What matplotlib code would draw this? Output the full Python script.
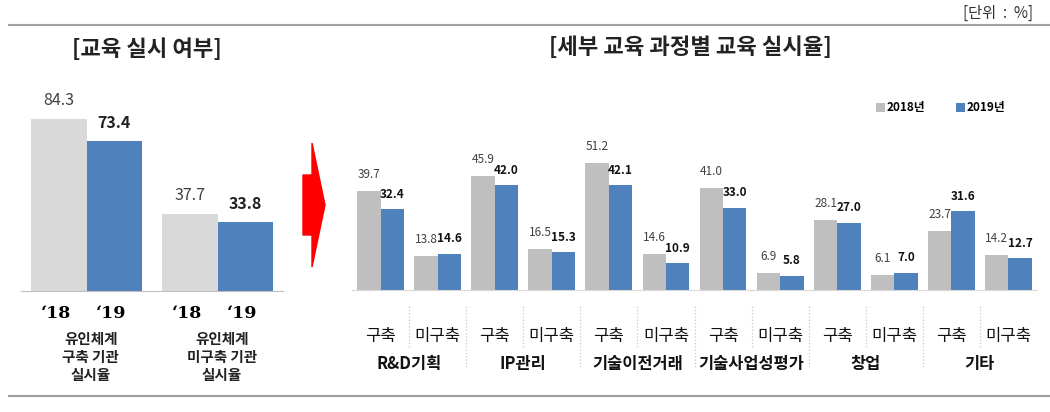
import numpy as np
import matplotlib.pyplot as plt
from matplotlib.patches import Polygon
from matplotlib.lines import Line2D

plt.rcParams['font.family'] = ['Noto Sans CJK KR', 'DejaVu Sans']

# left chart data
left_groups = ['유인체계\n구축 기관\n실시율', '유인체계\n미구축 기관\n실시율']
left_2018 = [84.3, 37.7]
left_2019 = [73.4, 33.8]
year_ticks = ['‘18', '‘19']

# right chart data
categories = ['R&D기획', 'IP관리', '기술이전거래', '기술사업성평가', '창업', '기타']
sub_labels = ['구축', '미구축']
right_2018 = [39.7, 13.8, 45.9, 16.5, 51.2, 14.6, 41.0, 6.9, 28.1, 6.1, 23.7, 14.2]
right_2019 = [32.4, 14.6, 42.0, 15.3, 42.1, 10.9, 33.0, 5.8, 27.0, 7.0, 31.6, 12.7]
legend_labels = ['2018년', '2019년']

W, H = 1050, 412
BLUE = '#4F81BD'
GRAY_L = '#D9D9D9'
GRAY_R = '#BFBFBF'


def fx(px):
    return px / W


def fy(py):
    return 1 - py / H


fig = plt.figure(figsize=(W / 100, H / 100), dpi=100)

# frame lines
fig.add_artist(Line2D([fx(9), fx(1050)], [fy(25), fy(25)], color='#A0A0A0', lw=1.5))
fig.add_artist(Line2D([fx(9), fx(1050)], [fy(396), fy(396)], color='#A0A0A0', lw=1.5))
fig.text(fx(1033), fy(13), '[단위  :  %]', ha='right', va='center', fontsize=11, color='#333333')

# ---- left chart ----
axl = fig.add_axes([fx(21), fy(291), fx(262), 204 / H])
x = np.arange(len(left_groups))
w = 0.42
b1 = axl.bar(x - w / 2, left_2018, w, color=GRAY_L)
b2 = axl.bar(x + w / 2, left_2019, w, color=BLUE)
axl.set_xlim(-0.5, 1.5)
axl.set_ylim(0, 100)
axl.set_yticks([])
axl.set_xticks([])
for s in ['top', 'right', 'left']:
    axl.spines[s].set_visible(False)
axl.spines['bottom'].set_color('#BFBFBF')
for bar, v in zip(b1, left_2018):
    axl.annotate(f'{v:.1f}', (bar.get_x() + bar.get_width() / 2, v), xytext=(0, 7.5),
                 textcoords='offset points', ha='center', va='bottom', fontsize=11.5, color='#404040')
for bar, v in zip(b2, left_2019):
    axl.annotate(f'{v:.1f}', (bar.get_x() + bar.get_width() / 2, v), xytext=(0, 7.5),
                 textcoords='offset points', ha='center', va='bottom', fontsize=11.5,
                 fontweight='bold', color='#222222')
for i, g in enumerate(left_groups):
    for j, t in enumerate(year_ticks):
        xc = i + (j - 0.5) * w
        axl.annotate(t, (xc, 0), xytext=(-2, -16), textcoords='offset points', ha='center',
                     va='center', fontsize=12.5, fontweight='bold', family=['DejaVu Serif'])
    axl.annotate(g, (i, 0), xytext=(3, -29), textcoords='offset points', ha='center', va='top',
                 fontsize=10.5, fontweight='bold', linespacing=1.15, color='#222222')
fig.text(fx(147), fy(50), '[교육 실시 여부]', ha='center', va='center', fontsize=16, fontweight='bold',
         color='#222222')

# red arrow
arrow = [(303, 175), (312, 175), (312, 143), (325, 205), (312, 267), (312, 235), (303, 235)]
fig.add_artist(Polygon([(fx(a), fy(b)) for a, b in arrow], closed=True, color='#FF0000',
                       transform=fig.transFigure))

# ---- right chart ----
axr = fig.add_axes([fx(352), fy(290), fx(685), 149.4 / H])
xr = np.arange(len(right_2018))
wr = 0.41
r1 = axr.bar(xr - wr / 2, right_2018, wr, color=GRAY_R, label=legend_labels[0])
r2 = axr.bar(xr + wr / 2, right_2019, wr, color=BLUE, label=legend_labels[1])
axr.set_xlim(-0.5, len(xr) - 0.5)
axr.set_ylim(0, 60)
axr.set_yticks([])
for s in ['top', 'right', 'left']:
    axr.spines[s].set_visible(False)
axr.spines['bottom'].set_color('#D9D9D9')
axr.set_xticks(xr)
axr.set_xticklabels(sub_labels * len(categories), fontsize=12, color='#111111')
axr.tick_params(axis='x', length=0, pad=27)
for bar, v in zip(r1, right_2018):
    axr.annotate(f'{v:.1f}', (bar.get_x() + bar.get_width() / 2, v), xytext=(0, 7),
                 textcoords='offset points', ha='center', va='bottom', fontsize=8.5, color='#404040')
for bar, v in zip(r2, right_2019):
    axr.annotate(f'{v:.1f}', (bar.get_x() + bar.get_width() / 2, v), xytext=(0, 6),
                 textcoords='offset points', ha='center', va='bottom', fontsize=8.5,
                 fontweight='bold', color='#111111')
for k, c in enumerate(categories):
    axr.annotate(c, (2 * k + 0.5, 0), xytext=(0, -53), textcoords='offset points', ha='center',
                 va='center', fontsize=11.8, fontweight='bold', color='#111111')
for b in range(1, len(xr)):
    bottom = 369 if b % 2 == 0 else 347
    xb = b - 0.5
    axr.plot([xb, xb], [-(306 - 290) / 2.49, -(bottom - 290) / 2.49], color='#C8C8C8',
             lw=0.9, ls=':', clip_on=False)
axr.legend(loc='center', bbox_to_anchor=(fx(941), fy(108)), bbox_transform=fig.transFigure,
           ncol=2, frameon=False, handlelength=0.7, handleheight=0.7, handletextpad=0.2,
           columnspacing=2.6, prop={'size': 8.5, 'weight': 'bold'})
fig.text(fx(690), fy(48), '[세부 교육 과정별 교육 실시율]', ha='center', va='center', fontsize=16,
         fontweight='bold', color='#222222')

fig.savefig('out.png', dpi=100)
